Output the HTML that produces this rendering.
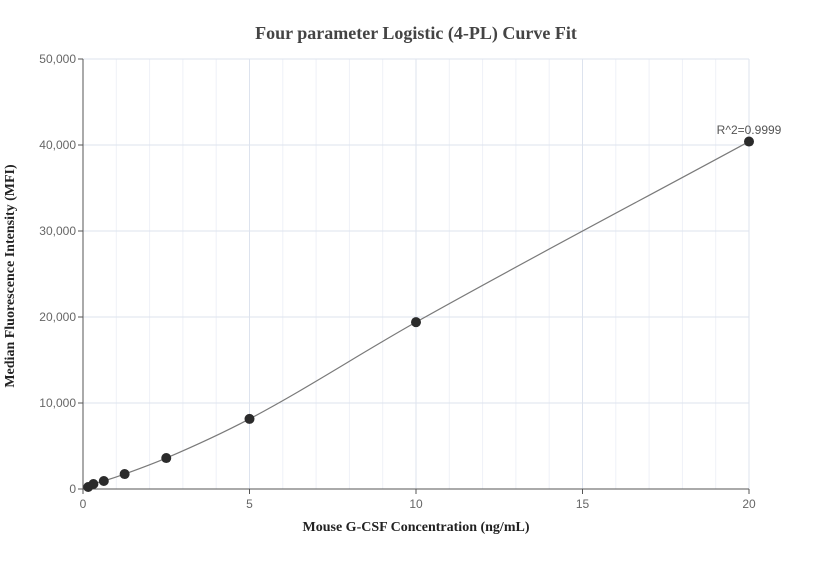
<!DOCTYPE html>
<html><head><meta charset="utf-8"><style>
body{margin:0;background:#fff;width:832px;height:560px;overflow:hidden}
svg text{font-family:"Liberation Sans",sans-serif}
</style></head><body>
<svg id="chart" width="832" height="560">
<text x="416" y="39" text-anchor="middle" font-weight="bold" font-size="18" fill="#444" style="font-family:'Liberation Serif',serif">Four parameter Logistic (4-PL) Curve Fit</text>
<g id="grid"></g>
<g id="axes"></g>
<path id="curve" fill="none" stroke="#7a7a7a" stroke-width="1.2"></path>
<g id="points"></g>
<text x="749" y="134" text-anchor="middle" font-size="12" fill="#555">R^2=0.9999</text>
<text x="416" y="531" text-anchor="middle" font-weight="bold" font-size="14" fill="#222" style="font-family:'Liberation Serif',serif">Mouse G-CSF Concentration (ng/mL)</text>
<text transform="translate(14,276) rotate(-90)" text-anchor="middle" font-weight="bold" font-size="14" fill="#222" style="font-family:'Liberation Serif',serif">Median Fluorescence Intensity (MFI)</text>
</svg>
<script>
const concentrations=[0.156,0.3125,0.625,1.25,2.5,5,10,20];
const mfiValues=[230,580,930,1740,3600,8150,19400,40400];
const xTicks=[0,5,10,15,20];
const yTicks=[0,10000,20000,30000,40000,50000];
const X0=83,X1=749,Y0=489,Y1=59;
const xs=v=>X0+(v-0)/(20-0)*(X1-X0);
const ys=v=>Y0-(v/50000)*(Y0-Y1);
const NS="http://www.w3.org/2000/svg";
function mk(t,a,p){const e=document.createElementNS(NS,t);for(const k in a)e.setAttribute(k,a[k]);p.appendChild(e);return e;}
const grid=document.getElementById('grid'),axes=document.getElementById('axes');
for(let i=1;i<=20;i++){
 const l=mk('line',{x1:xs(i),x2:xs(i),y1:Y1,y2:Y0,stroke:i%5==0?'#dde3ee':'#eef1f7','stroke-width':1},grid);
 
 
}
yTicks.forEach(v=>{if(v===0)return;
 const l=mk('line',{x1:X0,x2:X1,y1:ys(v),y2:ys(v),stroke:'#dde3ee','stroke-width':1},grid);
 
 
});
mk('line',{x1:X0,x2:X0,y1:Y1,y2:Y0,stroke:'#555'},axes);
mk('line',{x1:X0,x2:X1,y1:Y0,y2:Y0,stroke:'#555'},axes);
yTicks.forEach(v=>{
 mk('line',{x1:X0-5,x2:X0,y1:ys(v),y2:ys(v),stroke:'#555'},axes);
 const t=mk('text',{x:X0-7,y:ys(v)+4,'text-anchor':'end','font-size':12,fill:'#666'},axes);
 t.textContent=v.toLocaleString('en-US');
 
 
});
xTicks.forEach(v=>{
 mk('line',{x1:xs(v),x2:xs(v),y1:Y0,y2:Y0+5,stroke:'#555'},axes);
 const t=mk('text',{x:xs(v),y:Y0+19,'text-anchor':'middle','font-size':12,fill:'#666'},axes);
 t.textContent=v;
 
 
});
const px=concentrations.map(xs),py=mfiValues.map(ys),n=px.length;
const d=[],m=[];
for(let i=0;i<n-1;i++)d.push((py[i+1]-py[i])/(px[i+1]-px[i]));
m[0]=d[0];m[n-1]=d[n-2];
for(let i=1;i<n-1;i++)m[i]=d[i-1]*d[i]<=0?0:(d[i-1]+d[i])/2;
let path=`M${px[0]},${py[0]}`;
for(let i=0;i<n-1;i++){const h=px[i+1]-px[i];
 path+=` C${px[i]+h/3},${py[i]+m[i]*h/3} ${px[i+1]-h/3},${py[i+1]-m[i+1]*h/3} ${px[i+1]},${py[i+1]}`;}
document.getElementById('curve').setAttribute('d',path);
const pts=document.getElementById('points');
concentrations.forEach((c,i)=>{
 const p=mk('circle',{cx:xs(c),cy:ys(mfiValues[i]),r:5,fill:'#2b2b2b'},pts);
 
 
});
</script>
</body></html>
